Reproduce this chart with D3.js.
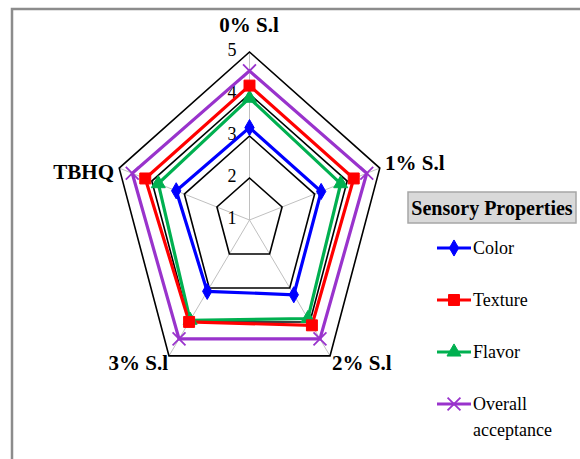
<!DOCTYPE html>
<html><head><meta charset="utf-8">
<script src="https://cdn.jsdelivr.net/npm/d3@7"></script>
<style>body{margin:0;background:#fff}svg{display:block}</style>
</head><body>
<svg id="c" width="580" height="459"></svg>
<script>
const axes = ["0% S.l", "1% S.l", "2% S.l", "3% S.l", "TBHQ"];
const tickValues = [1, 2, 3, 4, 5];
const seriesNames = ["Color", "Texture", "Flavor", "Overall acceptance"];
const colorVals = [3.2, 3.2, 3.2, 3.1, 3.25];
const textureVals = [4.2, 4.2, 4.1, 4.0, 4.2];
const flavorVals = [3.9, 3.8, 3.9, 3.95, 3.8];
const overallVals = [4.55, 4.6, 4.5, 4.5, 4.6];
const seriesColors = ["#0000ff", "#ff0000", "#00b050", "#9933cc"];
const markers = ["diamond", "square", "triangle", "cross"];
const allSeries = [colorVals, textureVals, flavorVals, overallVals];

const svg = d3.select("#c");
const cx = 249.5, cy = 220;
const rX = d3.scaleLinear().domain([1, 5]).range([0, 137]);
const rY = d3.scaleLinear().domain([1, 5]).range([0, 168]);
const ang = d3.scalePoint().domain(axes).range([0, 2 * Math.PI * 4 / 5]);
function pt(axis, v) {
  const a = ang(axis);
  return [cx + rX(v) * Math.sin(a), cy - rY(v) * Math.cos(a)];
}
const serif = "'Liberation Serif', 'Times New Roman', serif";

// frame
svg.append("path").attr("d", "M12,459 V9 H580").attr("fill", "none")
  .attr("stroke", "#8c8c8c").attr("stroke-width", 2.5);

// spokes
axes.forEach(a => {
  const p = pt(a, 5);
  svg.append("line").attr("x1", cx).attr("y1", cy).attr("x2", p[0]).attr("y2", p[1])
    .attr("stroke", "#c0c0c0").attr("stroke-width", 1);
});
// grid pentagons
const line = d3.line().curve(d3.curveLinearClosed);
tickValues.filter(t => t > 1).forEach(t => {
  svg.append("path").attr("d", line(axes.map(a => pt(a, t))))
    .attr("fill", "none").attr("stroke", "#000").attr("stroke-width", 1.6);
});
// tick labels
tickValues.forEach(t => {
  svg.append("text").attr("x", cx - 13).attr("y", cy - rY(t) + 4)
    .attr("text-anchor", "end").attr("font-family", serif).attr("font-size", 18)
    .text(t);
});

// series
const sym = {
  diamond: d3.symbol().type(d3.symbolDiamond).size(75),
  square: d3.symbol().type(d3.symbolSquare).size(120),
  triangle: d3.symbol().type(d3.symbolTriangle).size(85),
  cross: d3.symbol().type(d3.symbolX).size(110)
};
function drawMarker(g, m, x, y, col) {
  const p = g.append("path").attr("d", sym[m]()).attr("transform", `translate(${x},${y})`);
  if (m === "cross") p.attr("fill", "none").attr("stroke", col).attr("stroke-width", 1.8);
  else p.attr("fill", col).attr("stroke", col).attr("stroke-width", 1);
}
[3, 2, 1, 0].forEach(i => {
  const vals = allSeries[i];
  const pts = axes.map((a, j) => pt(a, vals[j]));
  svg.append("path").attr("d", line(pts)).attr("fill", "none")
    .attr("stroke", seriesColors[i]).attr("stroke-width", 3.2);
});
[3, 2, 1, 0].forEach(i => {
  const vals = allSeries[i];
  axes.forEach((a, j) => {
    const p = pt(a, vals[j]);
    drawMarker(svg, markers[i], p[0], p[1], seriesColors[i]);
  });
});

// axis labels
const lab = [
  {x: 249, y: 32, anchor: "middle"},
  {x: 385, y: 170, anchor: "start"},
  {x: 332, y: 370, anchor: "start"},
  {x: 168, y: 370, anchor: "end"},
  {x: 114, y: 179, anchor: "end"}
];
axes.forEach((a, i) => {
  svg.append("text").attr("x", lab[i].x).attr("y", lab[i].y)
    .attr("text-anchor", lab[i].anchor).attr("font-family", serif)
    .attr("font-weight", "bold").attr("font-size", 21).text(a);
});

// legend
svg.append("rect").attr("x", 408).attr("y", 192).attr("width", 168).attr("height", 31)
  .attr("fill", "#d9d9d9").attr("stroke", "#a6a6a6").attr("stroke-width", 1.5);
svg.append("text").attr("x", 492).attr("y", 215).attr("text-anchor", "middle")
  .attr("font-family", serif).attr("font-weight", "bold").attr("font-size", 20)
  .text("Sensory Properties");
const legY = [248, 300, 352, 404];
seriesNames.forEach((n, i) => {
  const y = legY[i];
  svg.append("line").attr("x1", 437).attr("x2", 471).attr("y1", y).attr("y2", y)
    .attr("stroke", seriesColors[i]).attr("stroke-width", 3);
  drawMarker(svg, markers[i], 454, y, seriesColors[i]);
  const words = n === "Overall acceptance" ? ["Overall", "acceptance"] : [n];
  words.forEach((w, k) => {
    svg.append("text").attr("x", 473).attr("y", y + 6 + k * 26)
      .attr("font-family", serif).attr("font-size", 18).text(w);
  });
});
</script>
</body></html>
